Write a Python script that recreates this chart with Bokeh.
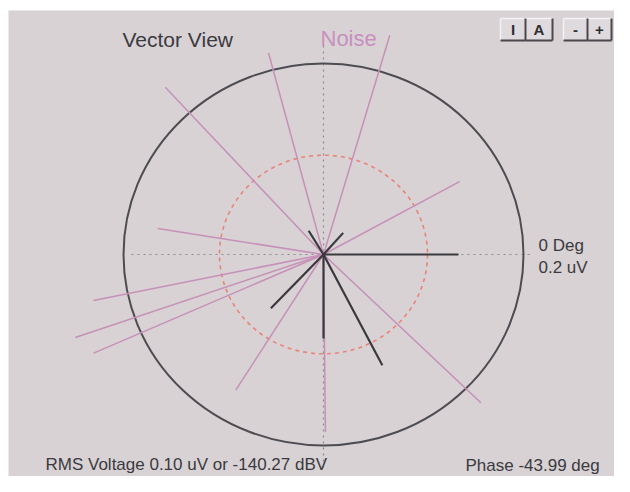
import numpy as np
from bokeh.plotting import figure
from bokeh.models import Range1d
from bokeh.core.properties import value
from bokeh.embed import file_html
from bokeh.resources import INLINE

# ---- data ----
full_scale_uV = 0.2            # outer circle = 0.2 uV
inner_ring_frac = 0.52         # dashed reference ring (fraction of full scale)

# noise vectors: magnitude (uV) and phase (deg)
noise_mag = [0.239, 0.218, 0.236, 0.156, 0.168, 0.235, 0.263, 0.252, 0.167, 0.221, 0.186]
noise_deg = [73.9, 104.6, 132.1, 29.3, 170.7, -168.2, -160.7, -155.8, -121.7, -44.6, -89.4]

# signal vectors: magnitude (uV) and phase (deg)
sig_mag = [0.135, 0.088, 0.130, 0.077, 0.029, 0.030]
sig_deg = [0.0, -90.0, -63.1, -133.1, 120.8, 49.0]

title_text = "Vector View"
noise_text = "Noise"
scale_texts = ["0 Deg", "0.2 uV"]
rms_text = "RMS Voltage 0.10 uV or -140.27 dBV"
phase_text = "Phase -43.99 deg"
buttons = ["I", "A", "-", "+"]

# ---- figure ----
BG = "#d8d2d4"
FONT = value("Liberation Sans")
W, H = 614, 476
LEFT_PAD, TOP_PAD = 8, 10
CX, CY, RX, RY = 323, 254, 200.0, 191.0


def dx(px):
    return (px - CX) / RX


def dy(py):
    return (CY - py) / RY


p = figure(width=W, height=H, output_backend="svg", toolbar_location=None,
           x_range=Range1d(dx(LEFT_PAD), dx(W)), y_range=Range1d(dy(H), dy(TOP_PAD)),
           min_border=0, min_border_left=LEFT_PAD, min_border_top=TOP_PAD)
p.axis.visible = False
p.grid.visible = False
p.outline_line_color = None
p.background_fill_color = BG
p.border_fill_color = "white"

# axes (dotted gray)
p.segment(x0=[-0.96, 0], y0=[0, 1.094], x1=[1.04, 0], y1=[0, -1.131],
          line_color="#8e8a90", line_width=1.2, line_dash="2 4")

# rings
p.ellipse(x=[0], y=[0], width=[2 * inner_ring_frac], height=[2 * inner_ring_frac],
          fill_color=None, line_color="#ea8378", line_width=1.6, line_dash="4 4")
p.ellipse(x=[0], y=[0], width=[2], height=[2], fill_color=None,
          line_color="#4c4c52", line_width=2)

# noise vectors
nm = np.array(noise_mag) / full_scale_uV
na = np.radians(noise_deg)
p.segment(x0=0, y0=0, x1=list(nm * np.cos(na)), y1=list(nm * np.sin(na)),
          line_color="#c690b8", line_width=1.5)

# signal vectors
sm = np.array(sig_mag) / full_scale_uV
sa = np.radians(sig_deg)
p.segment(x0=0, y0=0, x1=list(sm * np.cos(sa)), y1=list(sm * np.sin(sa)),
          line_color="#3a3a3e", line_width=2.2)

# texts
p.text(x=[dx(122)], y=[dy(39)], text=[title_text], text_font=FONT, text_font_size="21px",
       text_color="#3a3a40", text_baseline="middle", text_align="left")
p.text(x=[dx(320)], y=[dy(38)], text=[noise_text], text_font=FONT, text_font_size="22px",
       text_color="#c890c0", text_baseline="middle", text_align="left")
p.text(x=[dx(538), dx(538)], y=[dy(245), dy(267)], text=scale_texts, text_font=FONT,
       text_font_size="17px", text_color="#3a3a40", text_baseline="middle", text_align="left")
p.text(x=[dx(45)], y=[dy(464)], text=[rms_text], text_font=FONT, text_font_size="17px",
       text_color="#3a3a40", text_baseline="middle", text_align="left")
p.text(x=[dx(465)], y=[dy(465)], text=[phase_text], text_font=FONT, text_font_size="17px",
       text_color="#3a3a40", text_baseline="middle", text_align="left")

# buttons
bx = [(500, 525), (525, 552), (563, 587), (587, 611)]
top, bot = 18, 40
L = [dx(a) for a, b in bx]
R = [dx(b) for a, b in bx]
p.quad(left=L, right=R, top=dy(top), bottom=dy(bot), fill_color="#dedade", line_color=None)
p.segment(x0=L, y0=dy(top), x1=R, y1=dy(top), line_color="#f4f2f4", line_width=1.5)
p.segment(x0=L, y0=dy(top), x1=L, y1=dy(bot), line_color="#f4f2f4", line_width=1.5)
p.segment(x0=L, y0=dy(bot), x1=R, y1=dy(bot), line_color="#4a464c", line_width=2)
p.segment(x0=R, y0=dy(top), x1=R, y1=dy(bot), line_color="#4a464c", line_width=2)
p.text(x=[dx((a + b) / 2) for a, b in bx], y=dy((top + bot) / 2), text=buttons,
       text_font=FONT, text_font_size="15px", text_font_style="bold",
       text_color="#2e2e32", text_baseline="middle", text_align="center")

open("out.html", "w").write(file_html(p, INLINE))
